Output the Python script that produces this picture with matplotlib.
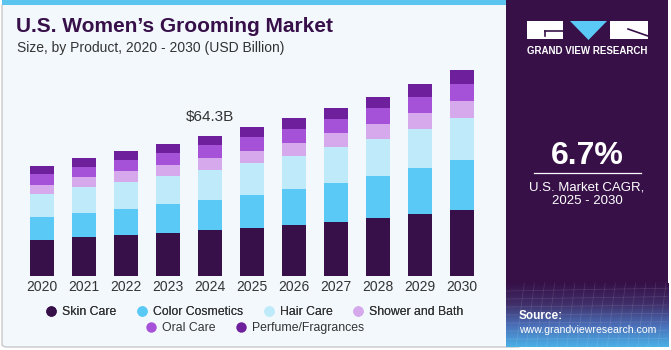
import numpy as np
import matplotlib
matplotlib.use("Agg")
import matplotlib.pyplot as plt
from matplotlib.patches import FancyBboxPatch, Rectangle, Polygon
from matplotlib.lines import Line2D

plt.rcParams["font.family"] = ["Liberation Sans", "DejaVu Sans"]

years = ["2020", "2021", "2022", "2023", "2024", "2025", "2026", "2027", "2028", "2029", "2030"]
skin_care = [16.4, 17.7, 18.6, 19.8, 20.9, 22.1, 23.5, 24.9, 26.7, 28.4, 30.4]
color_cosmetics = [10.4, 11.3, 12.2, 13.1, 14.1, 15.1, 16.6, 18.0, 19.3, 21.0, 23.0]
hair_care = [10.9, 12.0, 12.4, 13.0, 13.8, 14.7, 15.2, 16.3, 17.0, 18.2, 19.2]
shower_bath = [4.1, 4.3, 4.8, 4.9, 5.2, 5.7, 6.0, 6.4, 6.9, 7.4, 8.0]
oral_care = [5.1, 4.9, 5.3, 5.5, 6.0, 6.2, 6.3, 6.6, 7.1, 7.2, 7.7]
perfume = [3.4, 4.0, 3.9, 4.4, 4.3, 4.6, 5.1, 5.2, 5.5, 6.1, 6.6]

series_names = ["Skin Care", "Color Cosmetics", "Hair Care", "Shower and Bath",
                "Oral Care", "Perfume/Fragrances"]
series = [skin_care, color_cosmetics, hair_care, shower_bath, oral_care, perfume]
colors = ["#37104a", "#5bc9f5", "#bfeafa", "#d5a9ec", "#a652d8", "#6e1f9b"]

W, H = 671, 350
fig = plt.figure(figsize=(W / 100, H / 100), dpi=100)
fig.patch.set_facecolor("white")

def fx(px):
    return px / W

def fy(py):
    return 1 - py / H

# chart background card
fig.add_artist(FancyBboxPatch((fx(2), fy(347)), fx(520), fy(3) - fy(347),
                              boxstyle="round,pad=0,rounding_size=0.008",
                              transform=fig.transFigure, facecolor="#f3f8fc",
                              edgecolor="#c8c8c8", linewidth=1.0, zorder=0))
fig.add_artist(Rectangle((fx(2), fy(5)), fx(506) - fx(2), fy(0) - fy(5),
                         transform=fig.transFigure, facecolor="#5bc4ef",
                         edgecolor="none", zorder=1))

# right panel
pax = fig.add_axes([fx(506), fy(347), fx(668) - fx(506), fy(0) - fy(347)])
pax.set_xlim(0, 1)
pax.set_ylim(0, 1)
pax.axis("off")
pax.add_patch(Rectangle((0, 0), 1, 1, facecolor="#371048", edgecolor="none"))
grad = np.linspace(0, 1, 100).reshape(-1, 1)
cmap = matplotlib.colors.LinearSegmentedColormap.from_list(
    "g", ["#4ab0e6", "#4a6fb8", "#40306a", "#371048"])
pax.imshow(grad, extent=(0, 1, 0, 64 / 347), aspect="auto", cmap=cmap,
           origin="lower", zorder=1)
for k in range(1, 16):
    pax.plot([k / 16, k / 16 + 0.05], [0, 64 / 347], color="white", alpha=0.12, lw=0.5, zorder=2)
for k in range(1, 8):
    yy = k * 64 / 347 / 8
    pax.plot([0, 1], [yy, yy * 1.05], color="white", alpha=0.12, lw=0.5, zorder=2)

# logo
fig.add_artist(Rectangle((fx(527), fy(39)), fx(36), fy(21) - fy(39),
                         transform=fig.transFigure, facecolor="white", edgecolor="none", zorder=3))
fig.add_artist(Polygon([(fx(570), fy(21)), (fx(607), fy(21)), (fx(588.5), fy(40))],
                       closed=True, transform=fig.transFigure, facecolor="#5bc9f5",
                       edgecolor="none", zorder=3))
fig.add_artist(Rectangle((fx(610), fy(39)), fx(38), fy(21) - fy(39),
                         transform=fig.transFigure, facecolor="white", edgecolor="none", zorder=3))
fig.add_artist(Line2D([fx(545), fx(563)], [fy(31), fy(31)], transform=fig.transFigure,
                      color="#371048", lw=1.2, zorder=4))
fig.add_artist(Line2D([fx(545), fx(545)], [fy(31), fy(36)], transform=fig.transFigure,
                      color="#371048", lw=1.2, zorder=4))
fig.add_artist(Line2D([fx(628), fx(648)], [fy(29), fy(36)], transform=fig.transFigure,
                      color="#371048", lw=1.2, zorder=4))
fig.text(fx(587.5), fy(51), "GRAND VIEW RESEARCH", color="white", fontsize=7,
         fontweight="bold", ha="center", va="center", zorder=5)

fig.text(fx(587), fy(156), "6.7%", color="white", fontsize=23, fontweight="bold",
         ha="center", va="center", zorder=5)
fig.add_artist(Line2D([fx(534), fx(641)], [fy(173), fy(173)], transform=fig.transFigure,
                      color="white", lw=0.9, zorder=5))
fig.text(fx(587), fy(187), "U.S. Market CAGR,", color="white", fontsize=9.5,
         ha="center", va="center", zorder=5)
fig.text(fx(587), fy(201), "2025 - 2030", color="white", fontsize=9.5,
         ha="center", va="center", zorder=5)
fig.text(fx(519), fy(316), "Source:", color="white", fontsize=8.5, fontweight="bold",
         ha="left", va="center", zorder=5)
fig.text(fx(519), fy(330), "www.grandviewresearch.com", color="white", fontsize=7.6,
         ha="left", va="center", zorder=5)

# titles
fig.text(fx(16), fy(27), "U.S. Women\u2019s Grooming Market", color="#37104a",
         fontsize=15, fontweight="bold", ha="left", va="center")
fig.text(fx(17), fy(48), "Size, by Product, 2020 - 2030 (USD Billion)", color="#333333",
         fontsize=10, ha="left", va="center")

# bars
ax = fig.add_axes([fx(21), fy(275.7), fx(462), fy(58.5) - fy(275.7)])
ax.set_facecolor("none")
x = np.arange(len(years))
bottom = np.zeros(len(years))
handles = []
for name, vals, c in zip(series_names, series, colors):
    ax.bar(x, vals, width=0.55, bottom=bottom, color=c, edgecolor="none", label=name)
    handles.append(Line2D([], [], marker="o", ls="none", markersize=7.5,
                          markerfacecolor=c, markeredgecolor="none", label=name))
    bottom += np.array(vals)

ax.annotate("$64.3B", (4, bottom[4]), xytext=(0, 9), textcoords="offset points",
            ha="center", va="bottom", fontsize=11, color="#333333")

ax.set_xlim(-0.5, len(years) - 0.5)
ax.set_ylim(0, 100)
ax.set_xticks(x)
ax.set_xticklabels(years, fontsize=10, color="#333333")
ax.tick_params(axis="x", length=0, pad=3)
ax.set_yticks([])
for s in ax.spines.values():
    s.set_visible(False)

leg_kw = dict(loc="center", ncol=4, frameon=False, fontsize=8.8, handlelength=0.8,
              handletextpad=0.5, columnspacing=1.7, labelcolor="#333333")
leg1 = fig.legend(handles=handles[:4], bbox_to_anchor=(fx(255), fy(312)), **leg_kw)
fig.add_artist(leg1)
leg_kw["ncol"] = 2
fig.legend(handles=handles[4:], bbox_to_anchor=(fx(255), fy(328)), **leg_kw)

fig.savefig("out.png", dpi=100)
